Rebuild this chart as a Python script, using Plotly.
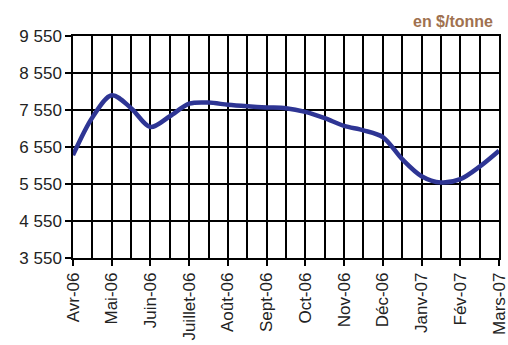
import plotly.graph_objects as go

# Monthly axis labels (Avr-06 .. Mars-07)
months = ["Avr-06", "Mai-06", "Juin-06", "Juillet-06", "Août-06", "Sept-06",
          "Oct-06", "Nov-06", "Déc-06", "Janv-07", "Fév-07", "Mars-07"]

# Price observations, two per month (month index, $/tonne)
t = [0, 0.5, 1, 1.5, 2, 2.5, 3, 3.5, 4, 4.5, 5, 5.5,
     6, 6.5, 7, 7.5, 8, 8.5, 9, 9.5, 10, 10.5, 11]
price = [6330, 7350, 7950, 7600, 7090, 7380, 7720, 7750, 7690, 7650, 7620, 7600,
         7500, 7330, 7120, 7000, 6820, 6220, 5760, 5590, 5680, 6020, 6450]

y_ticks = [3550, 4550, 5550, 6550, 7550, 8550, 9550]
y_labels = ["3 550", "4 550", "5 550", "6 550", "7 550", "8 550", "9 550"]

fig = go.Figure()
fig.add_trace(go.Scatter(
    x=t, y=price, mode="lines",
    line=dict(color="#2E3594", width=4.5, shape="spline", smoothing=0.9),
    hoverinfo="skip",
))

fig.update_layout(
    width=508, height=345,
    margin=dict(l=73, r=9, t=36, b=87),
    paper_bgcolor="white", plot_bgcolor="white",
    showlegend=False,
    font=dict(family="Liberation Sans, Arial, sans-serif", color="#222222"),
    annotations=[dict(
        text="<b>en $/tonne</b>", xref="paper", yref="paper",
        x=1.0, y=1.0, xanchor="right", yanchor="bottom", yshift=4, xshift=-4,
        showarrow=False, font=dict(size=16, color="#A0714F"),
    )],
)

fig.update_xaxes(
    range=[0, 11], tickvals=list(range(12)), ticktext=months, tickangle=-90,
    ticks="outside", ticklen=6, tickwidth=1.5, tickcolor="black",
    showgrid=True, gridcolor="black", gridwidth=1.5,
    minor=dict(dtick=0.5, tick0=0, showgrid=True, gridcolor="black", gridwidth=1.5),
    showline=True, linecolor="black", linewidth=1.5, mirror=True,
    zeroline=False, tickfont=dict(size=17, color="#222222"),
    automargin=False, ticklabeloverflow="allow",
)
fig.update_yaxes(
    range=[3550, 9550], tickvals=y_ticks, ticktext=y_labels,
    ticks="outside", ticklen=6, tickwidth=1.5, tickcolor="black",
    showgrid=True, gridcolor="black", gridwidth=1.5,
    showline=True, linecolor="black", linewidth=1.5, mirror=True,
    zeroline=False, tickfont=dict(size=17, color="#222222"),
    automargin=False,
)

fig.write_html("out.html")
